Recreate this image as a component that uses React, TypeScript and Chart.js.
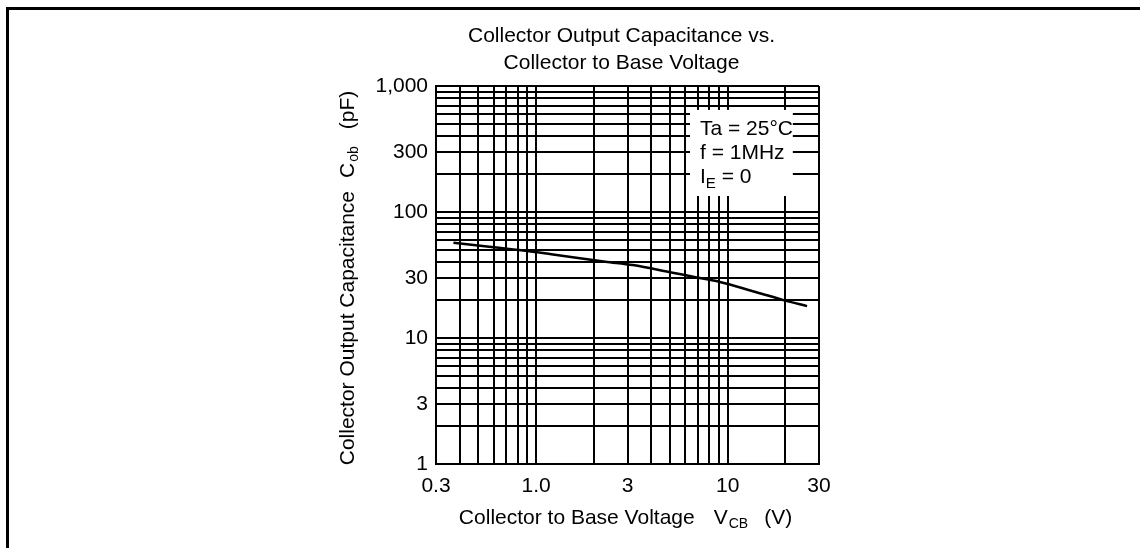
import { useEffect, useRef } from 'react';
import { Chart, registerables } from 'chart.js';

Chart.register(...registerables);

// ---- data ----
const TITLE_LINES = ['Collector Output Capacitance vs.', 'Collector to Base Voltage'];
const VCB = [0.37, 0.6, 0.9, 1.2, 2.3, 3.2, 5, 7, 9, 14, 20, 26];
const COB = [57, 52.4, 49, 46.2, 40.3, 37.9, 33.3, 30.1, 28, 23.2, 19.8, 17.9];
const X_GRID = [0.3, 0.4, 0.5, 0.6, 0.7, 0.8, 0.9, 1, 2, 3, 4, 5, 6, 7, 8, 9, 10, 20, 30];
const Y_GRID = [
  1, 2, 3, 4, 5, 6, 7, 8, 9,
  10, 20, 30, 40, 50, 60, 70, 80, 90,
  100, 200, 300, 400, 500, 600, 700, 800, 900,
  1000,
];
const X_TICK_VALUES = [0.3, 1, 3, 10, 30];
const X_TICK_TEXT = ['0.3', '1.0', '3', '10', '30'];
const Y_TICK_VALUES = [1, 3, 10, 30, 100, 300, 1000];
const Y_TICK_TEXT = ['1', '3', '10', '30', '100', '300', '1,000'];
const NOTE_ROWS = [
  [{ t: 'Ta = 25°C' }],
  [{ t: 'f = 1MHz' }],
  [{ t: 'I' }, { t: 'E', sub: true }, { t: ' = 0' }],
];

const FONT = "'Liberation Sans', Arial, Helvetica, sans-serif";

function findLabel(values: number[], texts: string[], v: number) {
  const i = values.findIndex((x) => Math.abs(x - v) / x < 1e-6);
  return i >= 0 ? texts[i] : '';
}

type Piece = { t: string; size: number; dy: number; gap: number };

function drawPieces(ctx: CanvasRenderingContext2D, pieces: Piece[], startX: number, baseY: number) {
  let x = startX;
  for (const p of pieces) {
    ctx.font = `${p.size}px ${FONT}`;
    ctx.fillText(p.t, x, baseY + p.dy);
    x += ctx.measureText(p.t).width + p.gap;
  }
}
function piecesWidth(ctx: CanvasRenderingContext2D, pieces: Piece[]) {
  let w = 0;
  pieces.forEach((p, i) => {
    ctx.font = `${p.size}px ${FONT}`;
    w += ctx.measureText(p.t).width + (i < pieces.length - 1 ? p.gap : 0);
  });
  return w;
}

const textPlugin = {
  id: 'textPlugin',
  afterDatasetsDraw(chart: any) {
    const { ctx, chartArea, scales } = chart;
    const xs = scales.x;
    const ys = scales.y;
    ctx.save();
    ctx.fillStyle = '#000';
    ctx.textAlign = 'left';
    ctx.textBaseline = 'alphabetic';

    // title
    const cx = (chartArea.left + chartArea.right) / 2 - 6;
    ctx.font = `21px ${FONT}`;
    ctx.textAlign = 'center';
    ctx.fillText(TITLE_LINES[0], cx, chartArea.top - 44);
    ctx.fillText(TITLE_LINES[1], cx, chartArea.top - 17);
    ctx.textAlign = 'left';

    // x axis title
    const xt: Piece[] = [
      { t: 'Collector to Base Voltage', size: 21, dy: 0, gap: 19 },
      { t: 'V', size: 21, dy: 0, gap: 1 },
      { t: 'CB', size: 14, dy: 4, gap: 16 },
      { t: '(V)', size: 21, dy: 0, gap: 0 },
    ];
    const xw = piecesWidth(ctx, xt);
    drawPieces(ctx, xt, (chartArea.left + chartArea.right) / 2 - 2 - xw / 2, chartArea.bottom + 60);

    // y axis title (rotated)
    const yt: Piece[] = [
      { t: 'Collector Output Capacitance', size: 21, dy: 0, gap: 13 },
      { t: 'C', size: 21, dy: 0, gap: 1 },
      { t: 'ob', size: 14, dy: 4, gap: 17 },
      { t: '(pF)', size: 21, dy: 0, gap: 0 },
    ];
    const yw = piecesWidth(ctx, yt);
    ctx.save();
    ctx.translate(chartArea.left - 82, (chartArea.top + chartArea.bottom) / 2 + 3);
    ctx.rotate(-Math.PI / 2);
    drawPieces(ctx, yt, -yw / 2, 0);
    ctx.restore();

    // annotation box (data coordinates)
    const bx0 = xs.getPixelForValue(6.36);
    const bx1 = xs.getPixelForValue(21.9);
    const by0 = ys.getPixelForValue(646);
    const by1 = ys.getPixelForValue(134);
    ctx.fillStyle = '#fff';
    ctx.fillRect(bx0, by0, bx1 - bx0, by1 - by0);
    ctx.fillStyle = '#000';
    NOTE_ROWS.forEach((row, i) => {
      const pieces: Piece[] = row.map((r: any) => ({
        t: r.t,
        size: r.sub ? 15 : 21,
        dy: r.sub ? 5 : 0,
        gap: 0,
      }));
      drawPieces(ctx, pieces, bx0 + 10, by0 + 25 + i * 24);
    });
    ctx.restore();
  },
};

export default function App() {
  const ref = useRef<HTMLCanvasElement | null>(null);
  useEffect(() => {
    if (!ref.current) return;
    Chart.defaults.font.family = FONT;
    Chart.defaults.color = '#000';
    const chart = new Chart(ref.current, {
      type: 'line',
      data: {
        datasets: [
          {
            data: VCB.map((v, i) => ({ x: v, y: COB[i] })),
            borderColor: '#000',
            borderWidth: 2.5,
            pointRadius: 0,
            cubicInterpolationMode: 'monotone',
            fill: false,
          },
        ],
      },
      options: {
        responsive: false,
        animation: false,
        layout: { padding: { left: 376, right: 321, top: 86, bottom: 44 } },
        plugins: {
          legend: { display: false },
          tooltip: { enabled: false },
          title: { display: false },
        },
        scales: {
          x: {
            type: 'logarithmic',
            min: 0.3,
            max: 30,
            afterBuildTicks: (scale: any) => {
              scale.ticks = X_GRID.map((v) => ({ value: v }));
            },
            afterFit: (scale: any) => {
              scale.height = 40;
            },
            ticks: {
              autoSkip: false,
              maxRotation: 0,
              padding: 10,
              font: { size: 21, family: FONT },
              color: '#000',
              callback: (v: any) => findLabel(X_TICK_VALUES, X_TICK_TEXT, Number(v)),
            },
            grid: { color: '#000', lineWidth: 2, drawTicks: false },
            border: { display: true, color: '#000', width: 2 },
          },
          y: {
            type: 'logarithmic',
            min: 1,
            max: 1000,
            afterBuildTicks: (scale: any) => {
              scale.ticks = Y_GRID.map((v) => ({ value: v }));
            },
            afterFit: (scale: any) => {
              scale.width = 60;
            },
            ticks: {
              autoSkip: false,
              padding: 8,
              font: { size: 21, family: FONT },
              color: '#000',
              callback: (v: any) => findLabel(Y_TICK_VALUES, Y_TICK_TEXT, Number(v)),
            },
            grid: { color: '#000', lineWidth: 2, drawTicks: false },
            border: { display: true, color: '#000', width: 2 },
          },
        },
      },
      plugins: [textPlugin],
    } as any);
    return () => chart.destroy();
  }, []);

  return (
    <div style={{ position: 'fixed', left: 0, top: 0, width: 1140, height: 548, background: '#fff' }}>
      <div
        style={{
          position: 'absolute',
          left: 6,
          top: 7,
          width: 1134,
          height: 541,
          boxSizing: 'border-box',
          borderTop: '3px solid #000',
          borderLeft: '3px solid #000',
        }}
      />
      <canvas
        ref={ref}
        width={1140}
        height={548}
        style={{ position: 'absolute', left: 0, top: 0, width: 1140, height: 548 }}
      />
    </div>
  );
}
